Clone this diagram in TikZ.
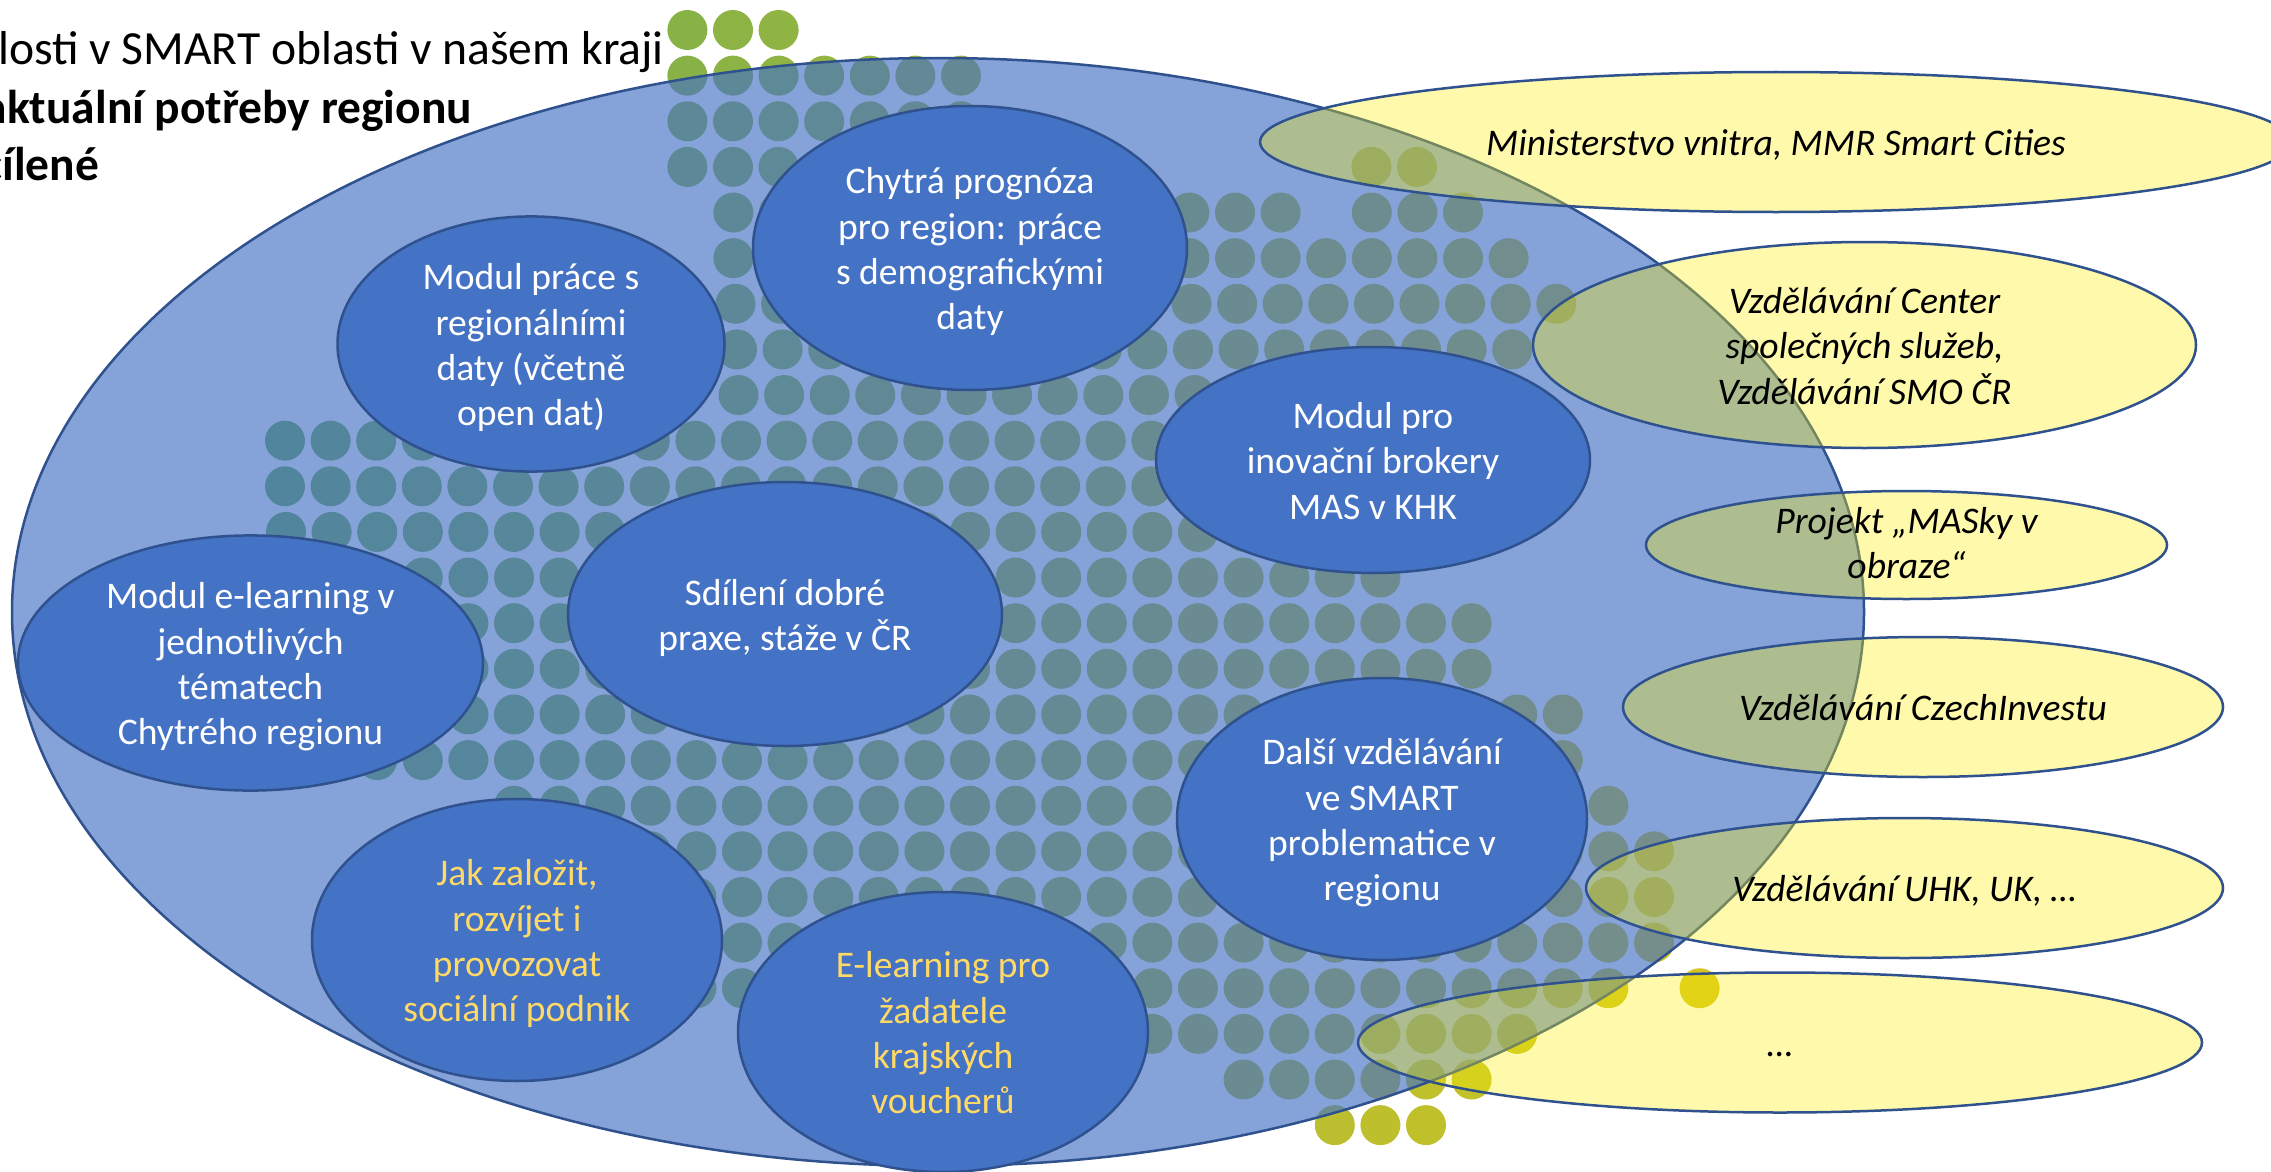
\documentclass[tikz,border=0pt]{standalone}
\usepackage{fontspec}
\setmainfont{Carlito}
\usetikzlibrary{shapes.geometric}
\definecolor{dotL}{RGB}{108,171,85}
\definecolor{dotR}{RGB}{213,197,33}
\definecolor{blueF}{HTML}{4472C4}
\definecolor{blueS}{HTML}{2F528F}
\definecolor{goldT}{HTML}{FFD966}
\newcommand{\dotrow}[4]{% row, offset, first, last
  \foreach \k in {#3,...,#4}{
    \pgfmathsetmacro{\dx}{286+(#2)+45.6*\k}
    \pgfmathsetmacro{\dy}{30+45.63*(#1)}
    \pgfmathtruncatemacro{\pct}{max(0,min(100,(\dx-286)/14.13))}
    \fill[color=dotR!\pct!dotL] (\dx,\dy) circle[radius=20pt];
  }}
\newcommand{\lnA}{\rule{0pt}{36pt}}
\newcommand{\lnB}{\rule[-8.5pt]{0pt}{8.5pt}}
\tikzset{
  bigell/.style={ellipse,draw=blueS,line width=2.5pt,fill=blueF,fill opacity=.65,inner sep=0pt,outer sep=0pt},
  blueell/.style={ellipse,draw=blueS,line width=2.5pt,fill=blueF,text=white,align=center,inner sep=0pt,outer sep=0pt,
    font=\fontsize{37.6}{45.3}\selectfont},
  goldtxt/.style={text=goldT},
  yell/.style={ellipse,draw=blueS,line width=2.5pt,fill=yellow,fill opacity=.33,text opacity=1,text=black,align=center,inner sep=0pt,outer sep=0pt,
    font=\fontsize{37.6}{45.3}\selectfont\itshape},
  head/.style={anchor=base east,inner sep=0pt,outer sep=0pt,text=black,font=\fontsize{47.6}{50}\selectfont},
  headb/.style={head,font=\fontsize{47.5}{50}\selectfont\bfseries}
}
\begin{document}
\begin{tikzpicture}[x=1pt,y=-1pt]
\path[use as bounding box,clip] (0,0) rectangle (2271,1172);
\fill[white] (0,0) rectangle (2271,1172);
% dots
\dotrow{0}{-9}{9}{11}
\dotrow{1}{-9}{9}{15}
\dotrow{2}{-9}{9}{15}
\dotrow{3}{-9}{9}{15}
\dotrow{3}{-9}{24}{25}
\dotrow{4}{-8.6}{10}{22}
\dotrow{4}{-8.6}{24}{26}
\dotrow{5}{-8.6}{10}{27}
\dotrow{6}{-6.5}{10}{28}
\dotrow{7}{-5}{10}{27}
\dotrow{8}{-3.5}{10}{24}
\dotrow{9}{-1}{0}{24}
\dotrow{10}{-1}{0}{24}
\dotrow{11}{0}{0}{24}
\dotrow{12}{0}{3}{24}
\dotrow{13}{0}{3}{26}
\dotrow{14}{0}{3}{26}
\dotrow{15}{0}{3}{28}
\dotrow{16}{0}{2}{28}
\dotrow{17}{0}{5}{29}
\dotrow{18}{0}{5}{30}
\dotrow{19}{0}{6}{30}
\dotrow{20}{0}{6}{30}
\dotrow{21}{0}{7}{29}
\dotrow{21}{0}{31}{31}
\dotrow{22}{0}{11}{27}
\dotrow{23}{0}{21}{26}
\dotrow{24}{0}{23}{25}
% heading
\node[head] (h1) at (664,65) {Znalosti v SMART oblasti v našem kraji};
\node[headb] (h2) at (472,123) {aktuální potřeby regionu};
\node[headb] (h3) at (99,180) {cílené};
% big ellipse
\node[bigell,minimum width=1852pt,minimum height=1108pt] (big) at (938,612) {};
% blue ellipses
\node[blueell,minimum width=387pt,minimum height=252pt] (prace) at (531,344) {\lnA Modul práce s\\regionálními\\daty (včetně\\open dat)\lnB};
\node[blueell,minimum width=434pt,minimum height=284pt] (prognoza) at (970,248) {\lnA Chytrá prognóza\\pro region: práce\\s demografickými\\daty\lnB};
\node[blueell,minimum width=434pt,minimum height=226pt] (broker) at (1373,460) {\lnA Modul pro\\inovační brokery\\MAS v KHK\lnB};
\node[blueell,minimum width=434pt,minimum height=264pt] (sdileni) at (785,614) {\lnA Sdílení dobré\\praxe, stáže v ČR\lnB};
\node[blueell,minimum width=465pt,minimum height=254pt] (elearn) at (250.5,663) {\lnA Modul e-learning v\\jednotlivých\\tématech\\Chytrého regionu\lnB};
\node[blueell,goldtxt,minimum width=410pt,minimum height=282pt] (podnik) at (517,940) {\lnA Jak založit,\\rozvíjet i\\provozovat\\sociální podnik\lnB};
\node[blueell,goldtxt,minimum width=410pt,minimum height=280pt] (voucher) at (943,1032) {\lnA E-learning pro\\žadatele\\krajských\\voucherů\lnB};
\node[blueell,minimum width=410pt,minimum height=282pt] (dalsi) at (1382,819) {\lnA Další vzdělávání\\ve SMART\\problematice v\\regionu\lnB};
% yellow ellipses
\node[yell,minimum width=1032pt,minimum height=140pt] (mv) at (1776,142) {\lnA Ministerstvo vnitra, MMR Smart Cities\lnB};
\node[yell,minimum width=663pt,minimum height=206pt] (csc) at (1864.5,345) {\lnA Vzdělávání Center\\společných služeb,\\Vzdělávání SMO ČR\lnB};
\node[yell,minimum width=521pt,minimum height=108pt] (masky) at (1906.5,545) {\raisebox{-16pt}{\smash{\begin{tabular}{@{}c@{}}Projekt „MASky v\\obraze“\end{tabular}}}};
\node[yell,minimum width=600pt,minimum height=140pt] (ci) at (1923,707) {\lnA Vzdělávání CzechInvestu\lnB};
\node[yell,minimum width=637pt,minimum height=140pt] (uhk) at (1904.5,888) {\lnA Vzdělávání UHK, UK, …\lnB};
\node[yell,minimum width=844pt,minimum height=140pt] (dots) at (1780,1042.5) {\lnA …\lnB};
\end{tikzpicture}
\end{document}
